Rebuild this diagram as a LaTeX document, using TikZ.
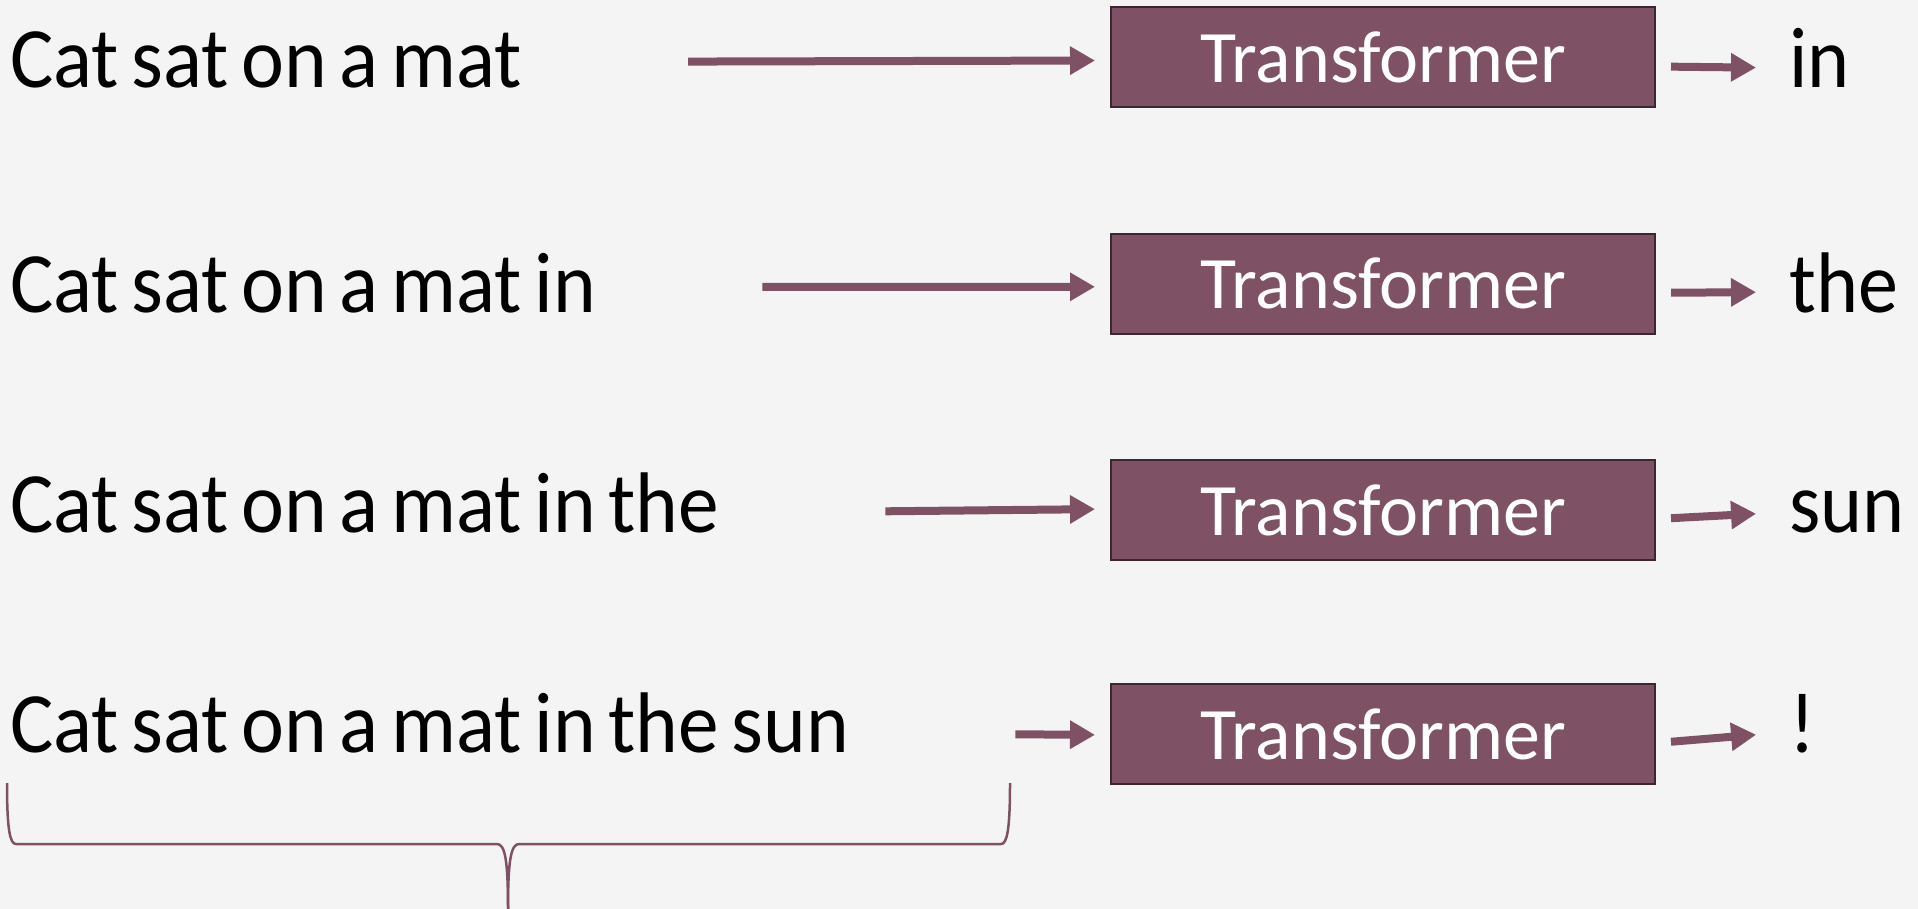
\documentclass[tikz,border=0pt]{standalone}
\usepackage{fontspec}
\setmainfont{Carlito}
\usetikzlibrary{arrows.meta}
\definecolor{plum}{HTML}{7E5264}
\definecolor{plumdark}{HTML}{3B2631}
\definecolor{paper}{HTML}{F4F4F4}
\newcommand{\squeeze}[1]{\scalebox{0.945}[1]{\spaceskip=13.5pt #1}}
\newcommand{\narrow}[1]{\scalebox{0.93}[1]{#1}}

\begin{document}
\begin{tikzpicture}[x=1pt, y=-1pt,
    word/.style={anchor=base west, inner sep=0pt, font=\fontsize{86}{100}\selectfont},
    tbox/.style={draw=plumdark, line width=2pt, fill=plum, text=white, minimum width=544pt, minimum height=100pt, inner sep=0pt, font=\fontsize{74}{80}\selectfont},
    arr/.style={draw=plum, line width=8pt, -{Triangle[length=25pt, width=27pt]}}]

        \useasboundingbox (0,0) rectangle (1918,909);
        \fill[paper] (0,0) rectangle (1918,909);

        % Sentences
        \node[word] at (10,88) (in1) {\squeeze{Cat sat on a mat}};
        \node[word] at (10,312) (in2) {\squeeze{Cat sat on a mat in}};
        \node[word] at (10,532) (in3) {\squeeze{Cat sat on a mat in the}};
        \node[word] at (10,752) (in4) {\squeeze{Cat sat on a mat in the sun}};

        % Boxes
        \node[tbox] at (1383,57.5) (tf1) {Transformer};
        \node[tbox] at (1383,283.8) (tf2) {Transformer};
        \node[tbox] at (1383,510) (tf3) {Transformer};
        \node[tbox] at (1383,734) (tf4) {Transformer};

        % Next words
        \node[word] at (1789,88) (out1) {\narrow{in}};
        \node[word] at (1789,312) (out2) {\narrow{the}};
        \node[word] at (1789,532) (out3) {\narrow{sun}};
        \node[word] at (1789,752) (out4) {\narrow{!}};

        % Arrows
        \draw[arr, shorten <=166pt, shorten >=15pt] ([yshift=26pt]in1.base east) -- ([yshift=-3pt]tf1.west);
        \draw[arr, shorten <=166pt, shorten >=15pt] ([yshift=25pt]in2.base east) -- ([yshift=-3pt]tf2.west);
        \draw[arr, shorten <=166pt, shorten >=15pt] ([yshift=19pt]in3.base east) -- ([yshift=1pt]tf3.west);
        \draw[arr, shorten <=166pt, shorten >=15pt] ([yshift=19pt]in4.base east) -- ([yshift=-1pt]tf4.west);

        \draw[arr, shorten <=15pt, shorten >=33pt] ([yshift=-9pt]tf1.east) -- ([yshift=20pt]out1.base west);
        \draw[arr, shorten <=15pt, shorten >=33pt] ([yshift=-9pt]tf2.east) -- ([yshift=20pt]out2.base west);
        \draw[arr, shorten <=15pt, shorten >=33pt] ([yshift=-9pt]tf3.east) -- ([yshift=20pt]out3.base west);
        \draw[arr, shorten <=15pt, shorten >=33pt] ([yshift=-9pt]tf4.east) -- ([yshift=20pt]out4.base west);

        % Brace
        \draw[plum, line width=2.5pt] (7,783) .. controls (7,830) and (10,844) .. (16,844) -- (497,844)
            .. controls (505,844) and (508,860) .. (508,909);
        \draw[plum, line width=2.5pt] (1010,783) .. controls (1010,830) and (1007,844) .. (1001,844) -- (519,844)
            .. controls (511,844) and (508,860) .. (508,909);

\end{tikzpicture}
\end{document}
